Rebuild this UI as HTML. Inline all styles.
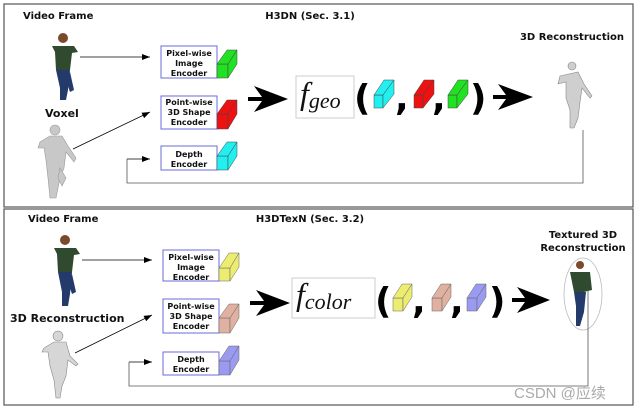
<!DOCTYPE html>
<html><head><meta charset="utf-8"><style>
html,body{margin:0;padding:0;background:#fff;}
svg{display:block;}
.b{font-family:"DejaVu Sans","Liberation Sans",sans-serif;font-weight:bold;font-size:10px;fill:#111;}
.e{font-family:"DejaVu Sans","Liberation Sans",sans-serif;font-weight:bold;font-size:8px;fill:#111;text-anchor:middle;}
.f{font-family:"Liberation Serif","DejaVu Serif",serif;font-style:italic;font-size:32px;fill:#111;}
.p{font-family:"DejaVu Sans","Liberation Sans",sans-serif;font-weight:bold;font-size:36px;fill:#000;}
.w{font-family:"Liberation Sans","Noto Sans CJK SC",sans-serif;font-size:15px;fill:#aaa;}
</style></head><body>
<svg width="640" height="410" viewBox="0 0 640 410" xmlns="http://www.w3.org/2000/svg">
<defs>
<marker id="a" markerWidth="8" markerHeight="6" refX="8" refY="3" orient="auto" markerUnits="userSpaceOnUse"><path d="M0,0 L8,3 L0,6 z" fill="#000"/></marker>
</defs>
<rect x="4" y="4" width="629" height="203" fill="none" stroke="#555" stroke-width="1.2"/>
<rect x="4" y="209" width="629" height="196" fill="none" stroke="#555" stroke-width="1.2"/>

<text class="b" x="23" y="19">Video Frame</text>
<text class="b" x="310" y="19" text-anchor="middle">H3DN (Sec. 3.1)</text>
<text class="b" x="572" y="40" text-anchor="middle">3D Reconstruction</text>
<text class="b" x="45" y="117" style="font-size:11px">Voxel</text>

<g>
<circle cx="63" cy="38" r="5" fill="#7a4a2a"/>
<path d="M52,46 L74,46 L78,52 L72,53 L70,70 L56,70 L55,52 Z" fill="#2f4a2e"/>
<path d="M56,70 L70,70 L68,90 L66,100 L60,100 L60,88 Z" fill="#243a6a"/>
<path d="M70,72 L74,90 L70,92 L66,80 Z" fill="#243a6a"/>
</g>
<g fill="#c8c8c8" stroke="#999" stroke-width="0.6">
<circle cx="55" cy="130" r="5"/>
<path d="M40,142 L50,136 L62,136 L68,146 L76,158 L74,162 L66,152 L64,168 L60,178 L56,198 L50,198 L48,178 L46,160 L44,148 L38,148 Z"/>
<path d="M60,168 L66,178 L62,186 L58,178 Z"/>
</g>
<g fill="#cfcfcf" stroke="#888" stroke-width="0.6">
<circle cx="572" cy="66" r="4"/>
<path d="M560,76 L578,72 L584,84 L592,96 L590,98 L582,88 L580,102 L578,118 L574,128 L570,128 L570,110 L566,98 L566,82 L558,84 Z"/>
</g>

<g fill="#fff" stroke="#6b6bdc" stroke-width="1">
<rect x="161" y="46" width="56" height="32"/>
<rect x="161" y="96" width="56" height="33"/>
<rect x="161" y="146" width="56" height="24"/>
</g>
<text class="e" x="189" y="56">Pixel-wise</text><text class="e" x="189" y="66">Image</text><text class="e" x="189" y="76">Encoder</text>
<text class="e" x="189" y="105">Point-wise</text><text class="e" x="189" y="115">3D Shape</text><text class="e" x="189" y="125">Encoder</text>
<text class="e" x="189" y="157">Depth</text><text class="e" x="189" y="167">Encoder</text>

<g stroke="#444" stroke-width="0.5">
<g fill="#22e022"><rect x="217" y="64" width="11" height="14"/><path d="M217,64 L227,50 L237,50 L228,64 Z"/><path d="M228,64 L237,50 L237,64 L228,78 Z"/></g>
<g fill="#ee1111"><rect x="217" y="114" width="11" height="15"/><path d="M217,114 L227,100 L237,100 L228,114 Z"/><path d="M228,114 L237,100 L237,114 L228,129 Z"/></g>
<g fill="#22f0f0"><rect x="217" y="156" width="11" height="14"/><path d="M217,156 L227,142 L237,142 L228,156 Z"/><path d="M228,156 L237,142 L237,156 L228,170 Z"/></g>
</g>

<g stroke="#000" stroke-width="0.8" fill="none">
<line x1="80" y1="57" x2="150" y2="57" marker-end="url(#a)"/>
<line x1="73" y1="149" x2="150" y2="112" marker-end="url(#a)"/>
<line x1="127" y1="159" x2="150" y2="159" marker-end="url(#a)"/>
<polyline points="127,159 127,183 583,183 583,130" stroke="#555"/>
</g>
<path d="M248,97 L262,97 L254,86 L288,99 L254,112 L262,101 L248,101 Z" fill="#000"/>
<path d="M493,95 L506,95 L498,84 L533,97 L498,110 L506,99 L493,99 Z" fill="#000"/>

<rect x="296" y="76" width="58" height="42" fill="#fff" stroke="#ccc"/>
<text class="f" x="300" y="104">f<tspan style="font-size:22px" dy="4">geo</tspan></text>
<text class="p" x="354" y="110">(</text>
<text class="p" x="395" y="110">,</text>
<text class="p" x="432" y="110">,</text>
<text class="p" x="470" y="110">)</text>
<g stroke="#444" stroke-width="0.5">
<g fill="#22f0f0"><rect x="374" y="95" width="9" height="13"/><path d="M374,95 L384,80 L394,80 L383,95 Z"/><path d="M383,95 L394,80 L394,94 L383,108 Z"/></g>
<g fill="#ee1111"><rect x="414" y="95" width="9" height="13"/><path d="M414,95 L424,80 L434,80 L423,95 Z"/><path d="M423,95 L434,80 L434,94 L423,108 Z"/></g>
<g fill="#22e022"><rect x="448" y="95" width="9" height="13"/><path d="M448,95 L458,80 L468,80 L457,95 Z"/><path d="M457,95 L468,80 L468,94 L457,108 Z"/></g>
</g>

<text class="b" x="28" y="222">Video Frame</text>
<text class="b" x="310" y="222" text-anchor="middle">H3DTexN (Sec. 3.2)</text>
<text class="b" x="583" y="238" text-anchor="middle">Textured 3D</text>
<text class="b" x="583" y="251" text-anchor="middle">Reconstruction</text>
<text class="b" x="10" y="322" style="font-size:11px">3D Reconstruction</text>

<g>
<circle cx="65" cy="240" r="5" fill="#7a4a2a"/>
<path d="M54,248 L76,248 L80,254 L74,255 L72,272 L58,272 L57,254 Z" fill="#2f4a2e"/>
<path d="M58,272 L72,272 L70,294 L68,306 L62,306 L62,292 Z" fill="#243a6a"/>
<path d="M72,274 L76,292 L72,294 L68,282 Z" fill="#243a6a"/>
</g>
<g fill="#d6d6d6" stroke="#888" stroke-width="0.6">
<circle cx="58" cy="336" r="5"/>
<path d="M44,348 L54,342 L66,342 L70,356 L78,364 L76,366 L68,360 L66,376 L62,386 L60,398 L56,398 L54,380 L50,366 L48,352 L42,352 Z"/>
</g>
<ellipse cx="583" cy="294" rx="19" ry="36" fill="none" stroke="#bbb" stroke-width="0.8"/>
<g>
<circle cx="580" cy="265" r="4" fill="#7a4a2a"/>
<path d="M570,272 L590,272 L592,290 L584,292 L574,292 Z" fill="#2f4a2e"/>
<path d="M574,292 L586,292 L584,312 L580,326 L576,326 L576,306 Z" fill="#243a6a"/>
</g>

<g fill="#fff" stroke="#6b6bdc" stroke-width="1">
<rect x="163" y="250" width="56" height="31"/>
<rect x="163" y="299" width="56" height="34"/>
<rect x="163" y="352" width="56" height="23"/>
</g>
<text class="e" x="191" y="260">Pixel-wise</text><text class="e" x="191" y="270">Image</text><text class="e" x="191" y="280">Encoder</text>
<text class="e" x="191" y="309">Point-wise</text><text class="e" x="191" y="319">3D Shape</text><text class="e" x="191" y="329">Encoder</text>
<text class="e" x="191" y="362">Depth</text><text class="e" x="191" y="372">Encoder</text>
<g stroke="#666" stroke-width="0.5">
<g fill="#ecec70"><rect x="219" y="268" width="11" height="13"/><path d="M219,268 L229,253 L239,253 L230,268 Z"/><path d="M230,268 L239,253 L239,267 L230,281 Z"/></g>
<g fill="#e0b0a0"><rect x="219" y="318" width="11" height="15"/><path d="M219,318 L229,304 L239,304 L230,318 Z"/><path d="M230,318 L239,304 L239,318 L230,333 Z"/></g>
<g fill="#9a9af0"><rect x="219" y="361" width="11" height="14"/><path d="M219,361 L229,346 L239,346 L230,361 Z"/><path d="M230,361 L239,346 L239,360 L230,375 Z"/></g>
</g>
<g stroke="#000" stroke-width="0.8" fill="none">
<line x1="82" y1="260" x2="152" y2="260" marker-end="url(#a)"/>
<line x1="75" y1="353" x2="152" y2="315" marker-end="url(#a)"/>
<line x1="129" y1="362" x2="152" y2="362" marker-end="url(#a)"/>
<polyline points="129,362 129,386 588,386 588,290" stroke="#555"/>
</g>
<path d="M250,301 L264,301 L256,290 L290,303 L256,316 L264,305 L250,305 Z" fill="#000"/>
<path d="M512,298 L525,298 L517,287 L550,300 L517,313 L525,302 L512,302 Z" fill="#000"/>
<rect x="292" y="278" width="83" height="40" fill="#fff" stroke="#ccc"/>
<text class="f" x="296" y="305">f<tspan style="font-size:22px" dy="4">color</tspan></text>
<text class="p" x="375" y="313">(</text>
<text class="p" x="412" y="313">,</text>
<text class="p" x="450" y="313">,</text>
<text class="p" x="489" y="313">)</text>
<g stroke="#666" stroke-width="0.5">
<g fill="#ecec70"><rect x="393" y="298" width="10" height="13"/><path d="M393,298 L402,284 L412,284 L403,298 Z"/><path d="M403,298 L412,284 L412,297 L403,311 Z"/></g>
<g fill="#e0b0a0"><rect x="432" y="298" width="10" height="13"/><path d="M432,298 L441,284 L451,284 L442,298 Z"/><path d="M442,298 L451,284 L451,297 L442,311 Z"/></g>
<g fill="#9a9af0"><rect x="467" y="298" width="10" height="13"/><path d="M467,298 L476,284 L486,284 L477,298 Z"/><path d="M477,298 L486,284 L486,297 L477,311 Z"/></g>
</g>
<text class="w" x="514" y="398">CSDN @应续</text>
</svg>
</body></html>
